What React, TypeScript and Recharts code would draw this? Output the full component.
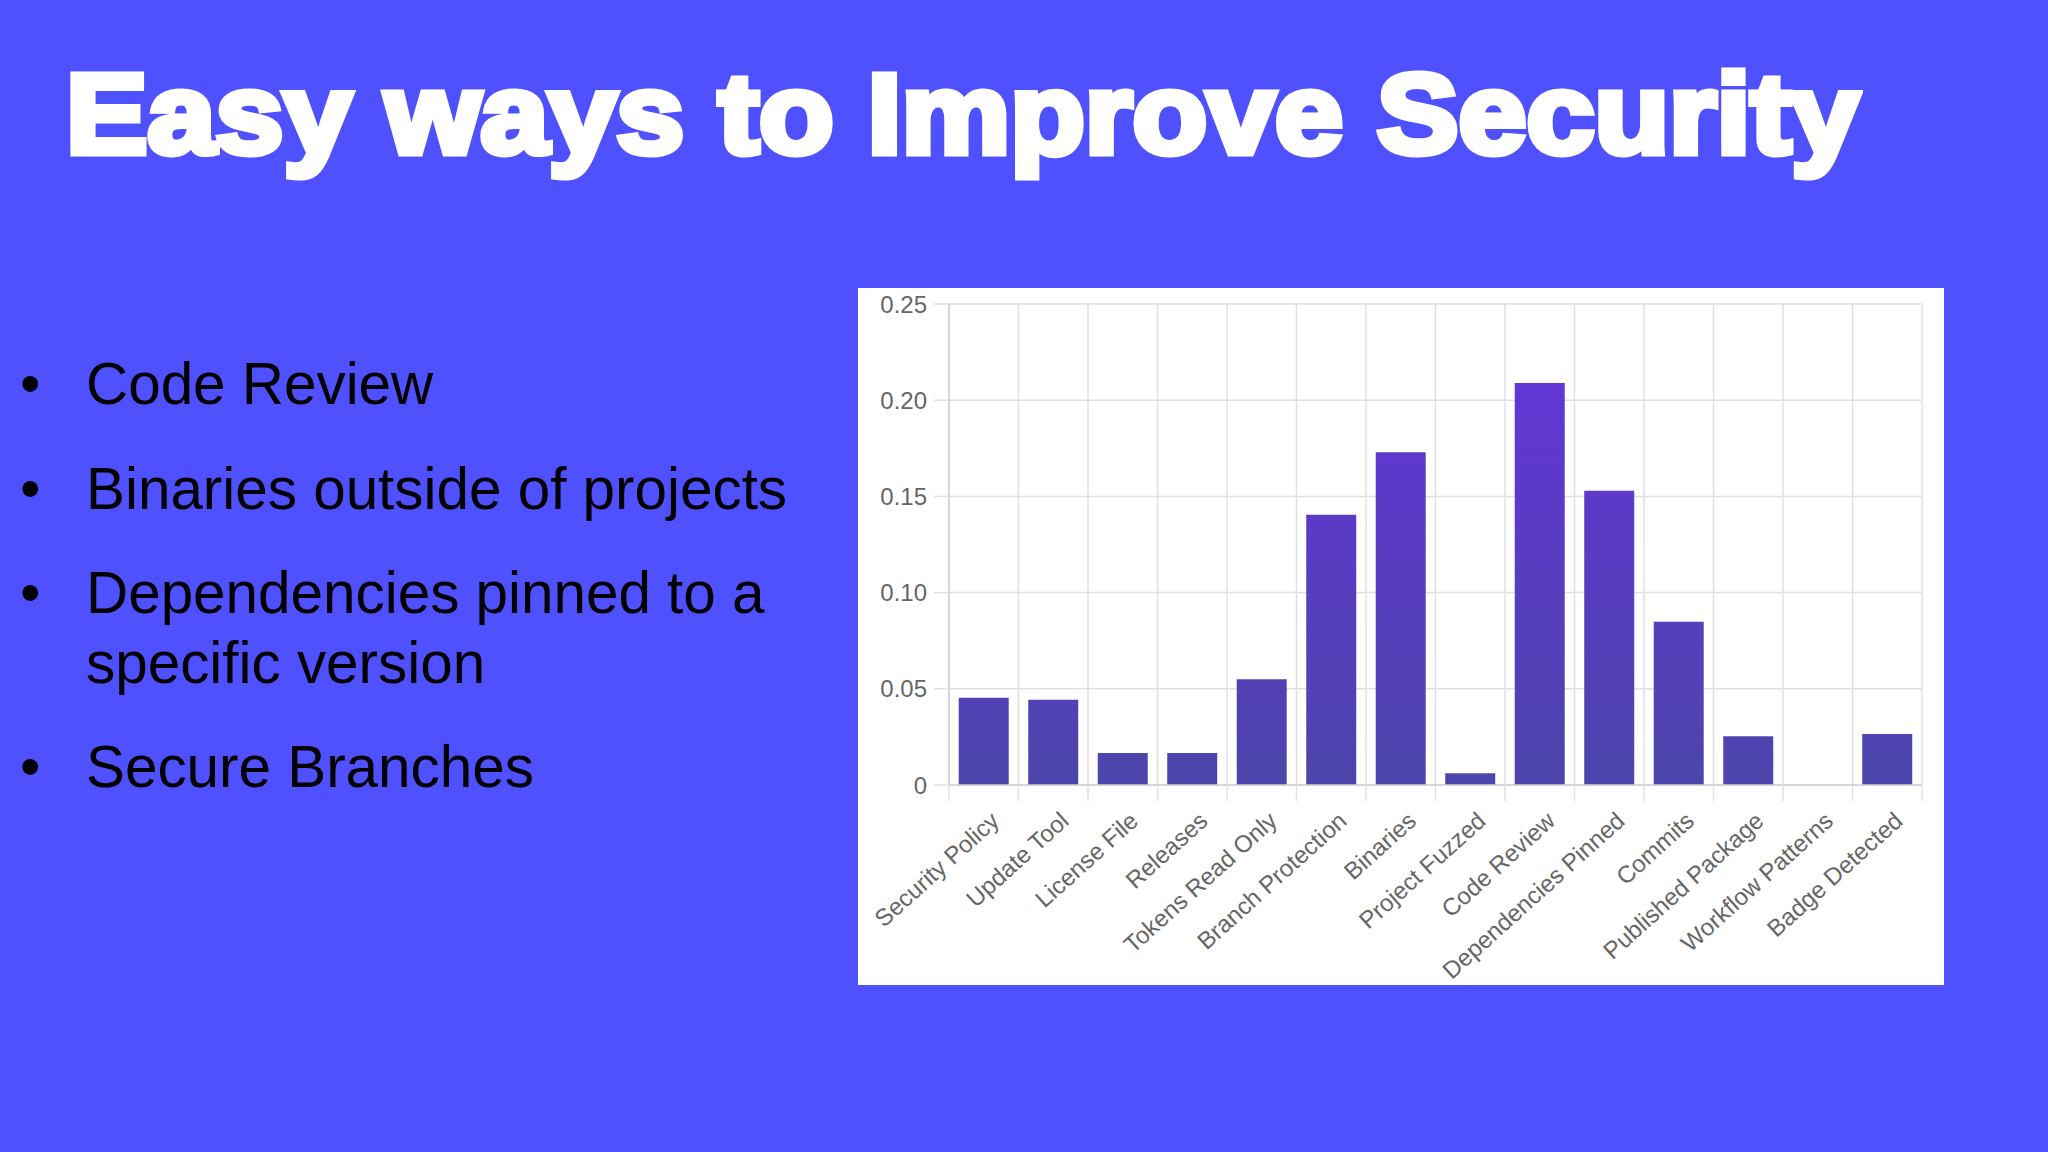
import { BarChart, Bar, XAxis, YAxis, CartesianGrid } from "recharts";

// share of projects failing each check
const categories = [
  "Security Policy",
  "Update Tool",
  "License File",
  "Releases",
  "Tokens Read Only",
  "Branch Protection",
  "Binaries",
  "Project Fuzzed",
  "Code Review",
  "Dependencies Pinned",
  "Commits",
  "Published Package",
  "Workflow Patterns",
  "Badge Detected",
];
const scores = [0.0454, 0.0443, 0.0166, 0.0166, 0.0549, 0.1404, 0.1729, 0.0061, 0.209, 0.1529, 0.0849, 0.0254, 0, 0.0265];
const yTicks = [0, 0.05, 0.1, 0.15, 0.2, 0.25];
const bullets = ["Code Review", "Binaries outside of projects", "Dependencies pinned to a specific version", "Secure Branches"];

const data = categories.map((name, i) => ({ name, score: scores[i], slot: i + 0.5 }));
const bounds = categories.map((_, i) => i).concat(categories.length);

const FONT = '"Liberation Sans", Arial, Helvetica, sans-serif';
const BG = "#4f50fe";
const GRID = "#e0e0e0";

function XTick({ x, y, payload }: any) {
  const ax = x + 17;
  const ay = y + 37;
  return (
    <text
      x={ax}
      y={ay}
      transform={`rotate(-42, ${ax}, ${ay})`}
      textAnchor="end"
      fontSize={24}
      fontFamily={FONT}
      fill="#666"
    >
      {payload.value}
    </text>
  );
}

const NoTick = () => <g />;
const fmt = (v: number) => (v === 0 ? "0" : v.toFixed(2));

// top offsets of each bullet line box
const bulletTops = [349, 454, 558, 732];

export default function App() {
  return (
    <div
      style={{
        position: "absolute",
        left: 0,
        top: 0,
        width: 2048,
        height: 1152,
        background: BG,
        overflow: "hidden",
        fontFamily: FONT,
      }}
    >
      <div
        style={{
          position: "absolute",
          left: 66,
          top: 57,
          fontSize: 114,
          lineHeight: "114px",
          fontWeight: 700,
          color: "#fff",
          WebkitTextStroke: "7px #fff",
          transform: "scaleX(1.072)",
          transformOrigin: "left top",
          whiteSpace: "nowrap",
        }}
      >
        Easy ways to Improve Security
      </div>

      {bullets.map((b, i) => (
        <div
          key={b}
          style={{
            position: "absolute",
            left: 0,
            top: bulletTops[i],
            width: 820,
            fontSize: 58.4,
            lineHeight: "70px",
            color: "#000",
          }}
        >
          <span style={{ position: "absolute", left: 20 }}>•</span>
          <div style={{ marginLeft: 86, width: 720 }}>{b}</div>
        </div>
      ))}

      <div style={{ position: "absolute", left: 858, top: 288, width: 1086, height: 697, background: "#fff" }}>
        <BarChart
          width={1086}
          height={697}
          data={data}
          margin={{ top: 16, right: 22, left: 0, bottom: 19 }}
          barCategoryGap="14%"
        >
          <defs>
            <linearGradient id="barFill" gradientUnits="userSpaceOnUse" x1="0" y1="16" x2="0" y2="497">
              <stop offset="0%" stopColor="#6633dc" />
              <stop offset="100%" stopColor="#4d45ab" />
            </linearGradient>
          </defs>
          <CartesianGrid stroke={GRID} strokeWidth={1.5} />
          <XAxis
            type="number"
            dataKey="slot"
            domain={[0, categories.length]}
            ticks={bounds}
            allowDataOverflow
            height={1}
            tick={NoTick}
            tickSize={16}
            tickLine={{ stroke: GRID, strokeWidth: 1.5 }}
            axisLine={{ stroke: "#d0d0d0", strokeWidth: 1.5 }}
          />
          <XAxis
            xAxisId="cat"
            dataKey="name"
            interval={0}
            height={180}
            tickSize={0}
            tickMargin={0}
            tickLine={false}
            axisLine={false}
            tick={<XTick />}
          />
          <YAxis
            width={91}
            domain={[0, 0.25]}
            ticks={yTicks}
            tickFormatter={fmt}
            tickSize={15}
            tickMargin={7}
            tickLine={{ stroke: GRID, strokeWidth: 1.5 }}
            axisLine={{ stroke: "#d0d0d0", strokeWidth: 1.5 }}
            tick={{ fontSize: 24, fill: "#666", fontFamily: FONT }}
          />
          <Bar xAxisId="cat" dataKey="score" fill="url(#barFill)" isAnimationActive={false} />
        </BarChart>
      </div>
    </div>
  );
}
